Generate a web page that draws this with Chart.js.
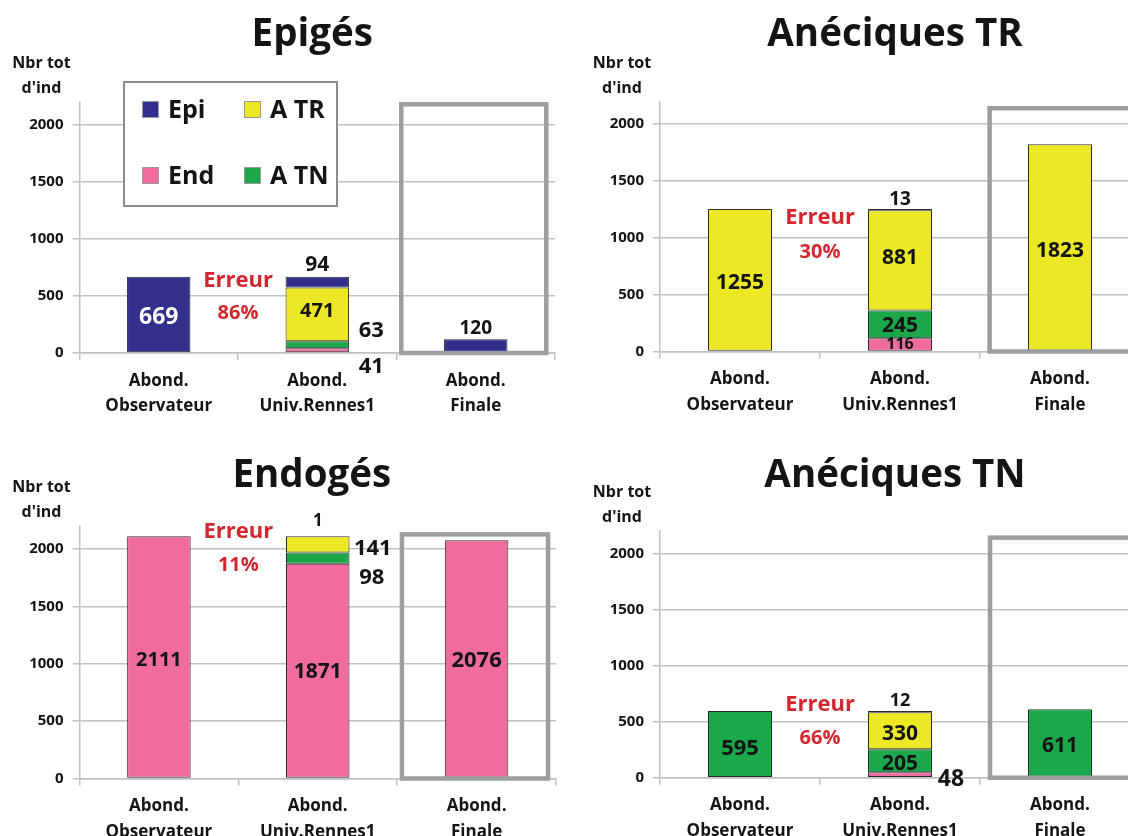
<!DOCTYPE html>
<html>
<head>
<meta charset="utf-8">
<script src="https://cdn.jsdelivr.net/npm/chart.js@4.4.1/dist/chart.umd.min.js"></script>
<style>
  html, body { margin: 0; padding: 0; background: #fff; width: 1128px; height: 836px; overflow: hidden; }
  canvas { position: absolute; }
</style>
</head>
<body>
<canvas id="c0"></canvas>
<canvas id="c1"></canvas>
<canvas id="c2"></canvas>
<canvas id="c3"></canvas>
<script>
// ---- data ----
const categories = [['Abond.', 'Observateur'], ['Abond.', 'Univ.Rennes1'], ['Abond.', 'Finale']];
const yTicks = [0, 500, 1000, 1500, 2000];
const chartTitles = ['Epigés', 'Anéciques TR', 'Endogés', 'Anéciques TN'];
const seriesNames = ['End', 'A TN', 'A TR', 'Epi'];   // stacking order, bottom to top
const errorRates = ['86%', '30%', '11%', '66%'];

const epigesEnd = [null, 41, null];
const epigesATN = [null, 63, null];
const epigesATR = [null, 471, null];
const epigesEpi = [669, 94, 120];

const trEnd = [null, 116, null];
const trATN = [null, 245, null];
const trATR = [1255, 881, 1823];
const trEpi = [null, 13, null];

const endoEnd = [2111, 1871, 2076];
const endoATN = [null, 98, null];
const endoATR = [null, 141, null];
const endoEpi = [null, 1, null];

const tnEnd = [null, 48, null];
const tnATN = [595, 205, 611];
const tnATR = [null, 330, null];
const tnEpi = [null, 12, null];

// ---- styles ----
const FONT = "'Open Sans', 'DejaVu Sans', sans-serif";
const seriesColors = { 'End': '#f06b9e', 'A TN': '#1ba84a', 'A TR': '#ece826', 'Epi': '#332f8c' };
const GRID = '#bfc1c4';
const FRAME = '#9c9ea1';
const RED = '#d3272f';
const INK = '#141414';

// ---- panel layout (canvas rect + plot rect in page pixels) ----
const panels = [
  {
    id: 'c0', title: chartTitles[0], error: errorRates[0],
    series: [epigesEnd, epigesATN, epigesATR, epigesEpi],
    canvas: { left: 0, top: 0, w: 564, h: 418 },
    plot: { l: 79.5, t: 102, r: 555, b: 353 },
    titleBase: 46, titleDx: -5,
    errorAt: [632, 351],
    frame: { from: 1.53, to: 2.445, top: 2180 },
    legend: { x: 124, y: 82, w: 213, h: 124 },
    labels: [
      { ds: 3, i: 0, mode: 'center', dy: 3, size: 23, color: '#ffffff' },
      { ds: 3, i: 1, mode: 'above', gap: 12, size: 21 },
      { ds: 2, i: 1, mode: 'center', dy: -3, size: 20 },
      { ds: 1, i: 1, mode: 'center', dx: 54, dy: -14, size: 22 },
      { ds: 0, i: 1, mode: 'center', dx: 54, dy: 16, size: 22 },
      { ds: 3, i: 2, mode: 'above', gap: 11, size: 19 }
    ]
  },
  {
    id: 'c1', title: chartTitles[1], error: errorRates[1],
    series: [trEnd, trATN, trATR, trEpi],
    canvas: { left: 564, top: 0, w: 620, h: 418 },
    plot: { l: 660, t: 101.5, r: 1140, b: 351.5 },
    titleBase: 46, titleDx: -5,
    errorAt: [1180, 873],
    frame: { from: 1.56, to: 2.45, top: 2141 },
    labels: [
      { ds: 2, i: 0, mode: 'center', dy: 3, size: 21 },
      { ds: 3, i: 1, mode: 'above', gap: 9, size: 19 },
      { ds: 2, i: 1, mode: 'center', dy: -2, size: 21 },
      { ds: 1, i: 1, mode: 'center', dy: 2, size: 21 },
      { ds: 0, i: 1, mode: 'center', dy: 0, size: 16 },
      { ds: 2, i: 2, mode: 'center', dy: 3, size: 21 }
    ]
  },
  {
    id: 'c2', title: chartTitles[2], error: errorRates[2],
    series: [endoEnd, endoATN, endoATR, endoEpi],
    canvas: { left: 0, top: 418, w: 564, h: 418 },
    plot: { l: 79.5, t: 526, r: 556, b: 778.5 },
    titleBase: 69, titleDx: -6,
    errorAt: [2149, 1861],
    frame: { from: 1.53, to: 2.45, top: 2127 },
    labels: [
      { ds: 0, i: 0, mode: 'center', dy: 3, size: 20 },
      { ds: 0, i: 1, mode: 'center', dy: 1, size: 21 },
      { ds: 3, i: 1, mode: 'above', gap: 15, size: 17 },
      { ds: 2, i: 1, mode: 'center', dx: 55, dy: 4, size: 22 },
      { ds: 1, i: 1, mode: 'center', dx: 54, dy: 20, size: 22 },
      { ds: 0, i: 2, mode: 'center', dy: 2, size: 22 }
    ]
  },
  {
    id: 'c3', title: chartTitles[3], error: errorRates[3],
    series: [tnEnd, tnATN, tnATR, tnEpi],
    canvas: { left: 564, top: 418, w: 620, h: 418 },
    plot: { l: 660, t: 531, r: 1140, b: 777.7 },
    titleBase: 69, titleDx: -5,
    errorAt: [648, 354],
    frame: { from: 1.5625, to: 2.45, top: 2141 },
    labels: [
      { ds: 1, i: 0, mode: 'center', dy: 5, size: 22 },
      { ds: 3, i: 1, mode: 'above', gap: 10, size: 18 },
      { ds: 2, i: 1, mode: 'center', dy: 3, size: 21 },
      { ds: 1, i: 1, mode: 'center', dy: 3, size: 21 },
      { ds: 0, i: 1, mode: 'center', dx: 51, dy: 5, size: 23 },
      { ds: 1, i: 2, mode: 'center', dy: 3, size: 21 }
    ]
  }
];

// Decorations: highlight frame, titles, value labels, error note, legend
const panelDecor = {
  id: 'panelDecor',
  afterDatasetsDraw(chart, args, o) {
    const { ctx, scales: { x, y } } = chart;
    if (o.frame) {
      const x0 = x.getPixelForValue(o.frame.from);
      const x1 = x.getPixelForValue(o.frame.to);
      const y0 = y.getPixelForValue(o.frame.top);
      const y1 = y.getPixelForValue(0);
      ctx.save();
      ctx.strokeStyle = FRAME;
      ctx.lineWidth = 4.5;
      ctx.strokeRect(x0, y0, x1 - x0, y1 - y0);
      ctx.restore();
    }
  },
  afterDraw(chart, args, o) {
    const { ctx, scales: { x, y }, chartArea } = chart;
    ctx.save();
    ctx.fillStyle = INK;
    ctx.textAlign = 'center';
    ctx.textBaseline = 'alphabetic';

    // title
    ctx.font = `bold 38.5px ${FONT}`;
    ctx.fillText(o.title, x.getPixelForValue(1) + o.titleDx, o.titleBase);

    // y axis caption
    ctx.font = `bold 16px ${FONT}`;
    ctx.fillText('Nbr tot', chartArea.left - 38, chartArea.top - 34);
    ctx.fillText("d'ind", chartArea.left - 38, chartArea.top - 9);

    // error note between the first two bars
    const ex = x.getPixelForValue(0.5);
    ctx.textBaseline = 'middle';
    ctx.fillStyle = RED;
    ctx.font = `bold 22px ${FONT}`;
    ctx.fillText('Erreur', ex, y.getPixelForValue(o.errorAt[0]));
    ctx.font = `bold 20px ${FONT}`;
    ctx.fillText(o.error, ex, y.getPixelForValue(o.errorAt[1]));

    // value labels
    o.labels.forEach(l => {
      const el = chart.getDatasetMeta(l.ds).data[l.i];
      const v = chart.data.datasets[l.ds].data[l.i];
      if (!el || v == null) return;
      let px = el.x, py;
      if (l.mode === 'above') py = Math.min(el.y, el.base) - (l.gap || 12);
      else py = (el.y + el.base) / 2;
      px += l.dx || 0;
      py += l.dy || 0;
      ctx.fillStyle = l.color || INK;
      ctx.font = `bold ${l.size}px ${FONT}`;
      ctx.fillText(String(v), px, py);
    });

    // legend
    if (o.legend) {
      const L = o.legend;
      ctx.fillStyle = '#ffffff';
      ctx.fillRect(L.x, L.y, L.w, L.h);
      ctx.strokeStyle = '#8a8c8f';
      ctx.lineWidth = 2;
      ctx.strokeRect(L.x, L.y, L.w, L.h);
      const order = [['Epi', 18, 19], ['A TR', 120, 19], ['End', 18, 85], ['A TN', 120, 85]];
      ctx.textAlign = 'left';
      ctx.textBaseline = 'alphabetic';
      ctx.font = `bold 25px ${FONT}`;
      order.forEach(([name, ox, oy]) => {
        const sx = L.x + ox, sy = L.y + oy;
        ctx.fillStyle = seriesColors[name];
        ctx.fillRect(sx, sy, 17, 17);
        ctx.strokeStyle = '#9a9a9a';
        ctx.lineWidth = 1;
        ctx.strokeRect(sx + 0.5, sy + 0.5, 16, 16);
        ctx.fillStyle = INK;
        ctx.fillText(name, sx + 26, sy + 17);
      });
    }
    ctx.restore();
  }
};

function build(p) {
  const cv = document.getElementById(p.id);
  cv.width = p.canvas.w;
  cv.height = p.canvas.h;
  cv.style.left = p.canvas.left + 'px';
  cv.style.top = p.canvas.top + 'px';
  cv.style.width = p.canvas.w + 'px';
  cv.style.height = p.canvas.h + 'px';

  const plotL = p.plot.l - p.canvas.left;
  const plotR = p.plot.r - p.canvas.left;
  const plotT = p.plot.t - p.canvas.top;
  const plotB = p.plot.b - p.canvas.top;

  const datasets = seriesNames.map((name, k) => ({
    label: name,
    data: p.series[k],
    backgroundColor: seriesColors[name],
    borderColor: '#2b2b2b',
    borderWidth: 1,
    borderSkipped: false,
    barPercentage: 0.4,
    categoryPercentage: 1.0
  }));

  return new Chart(cv, {
    type: 'bar',
    data: { labels: categories, datasets },
    plugins: [panelDecor],
    options: {
      responsive: false,
      animation: false,
      devicePixelRatio: 1,
      layout: { padding: { left: 0, top: plotT, right: p.canvas.w - plotR, bottom: 0 } },
      plugins: {
        legend: { display: false },
        tooltip: { enabled: false },
        title: { display: false },
        panelDecor: {
          title: p.title, titleBase: p.titleBase, titleDx: p.titleDx,
          error: p.error, errorAt: p.errorAt, frame: p.frame,
          labels: p.labels, legend: p.legend
        }
      },
      scales: {
        x: {
          stacked: true,
          offset: true,
          grid: { display: true, drawOnChartArea: false, drawTicks: true, tickLength: 7, offset: true, color: GRID, lineWidth: 1.5 },
          border: { display: true, color: GRID, width: 1.5 },
          ticks: {
            color: INK, padding: 8, maxRotation: 0, autoSkip: false,
            font: { family: FONT, size: 17, weight: 'bold', lineHeight: 1.5 }
          },
          afterFit: s => { s.height = p.canvas.h - plotB; }
        },
        y: {
          stacked: true,
          min: 0,
          max: 2200,
          afterBuildTicks: s => { s.ticks = yTicks.map(v => ({ value: v })); },
          grid: { color: GRID, lineWidth: 1.5, tickLength: 7 },
          border: { display: true, color: GRID, width: 1.5 },
          ticks: {
            color: INK, padding: 9,
            font: { family: FONT, size: 15, weight: 'bold' },
            callback: v => String(v)
          },
          afterFit: s => { s.width = plotL; }
        }
      }
    }
  });
}

panels.forEach(build);
</script>
</body>
</html>
